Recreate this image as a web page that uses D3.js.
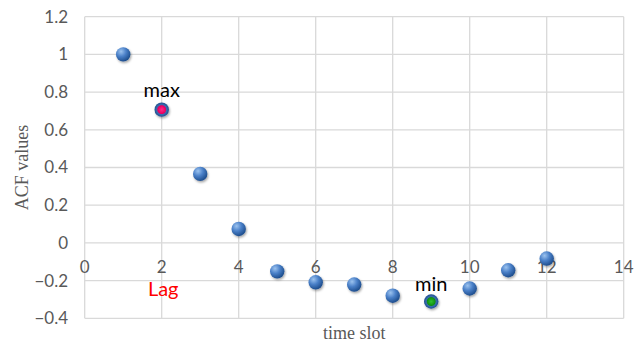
<!DOCTYPE html>
<html><head><meta charset="utf-8">
<script src="https://cdn.jsdelivr.net/npm/d3@7"></script>
<style>body{margin:0;background:#fff}svg{display:block}</style>
</head><body>
<script>
const lags = [1,2,3,4,5,6,7,8,9,10,11,12];
const acfValues = [1.0,0.707,0.366,0.074,-0.151,-0.209,-0.221,-0.28,-0.311,-0.242,-0.145,-0.083];
const xTicks = [0,2,4,6,8,10,12,14];
const yTicks = [-0.4,-0.2,0,0.2,0.4,0.6,0.8,1,1.2];
const maxLag = 2, minLag = 9;

const W=639,H=345;
const svg=d3.select("body").append("svg").attr("width",W).attr("height",H);
const x=d3.scaleLinear().domain([0,14]).range([84.7,623.7]);
const y=d3.scaleLinear().domain([-0.4,1.2]).range([318.3,16.7]);

const defs=svg.append("defs");
const g=defs.append("radialGradient").attr("id","gb").attr("cx","35%").attr("cy","30%").attr("r","70%");
g.append("stop").attr("offset","0%").attr("stop-color","#9cc3ef");
g.append("stop").attr("offset","50%").attr("stop-color","#4a80c8");
g.append("stop").attr("offset","100%").attr("stop-color","#1f4f8f");
const gp=defs.append("radialGradient").attr("id","gp").attr("cx","50%").attr("cy","50%").attr("r","50%");
gp.append("stop").attr("offset","0%").attr("stop-color","#ff2a8a");
gp.append("stop").attr("offset","55%").attr("stop-color","#e8005f");
gp.append("stop").attr("offset","68%").attr("stop-color","#3a6db0");
gp.append("stop").attr("offset","100%").attr("stop-color","#1f4f8f");
const gg=defs.append("radialGradient").attr("id","gg").attr("cx","50%").attr("cy","50%").attr("r","50%");
gg.append("stop").attr("offset","0%").attr("stop-color","#30c030");
gg.append("stop").attr("offset","55%").attr("stop-color","#109010");
gg.append("stop").attr("offset","68%").attr("stop-color","#3a6db0");
gg.append("stop").attr("offset","100%").attr("stop-color","#1f4f8f");
const f=defs.append("filter").attr("id","sh").attr("x","-50%").attr("y","-50%").attr("width","200%").attr("height","200%");
f.append("feDropShadow").attr("dx",1).attr("dy",1.5).attr("stdDeviation",1.2).attr("flood-color","#000").attr("flood-opacity",0.35);

// grid
svg.append("g").selectAll("line").data(xTicks).join("line")
  .attr("x1",d=>x(d)).attr("x2",d=>x(d)).attr("y1",y(1.2)).attr("y2",y(-0.4))
  .attr("stroke","#d9d9d9").attr("stroke-width",1.3);
svg.append("g").selectAll("line").data(yTicks).join("line")
  .attr("y1",d=>y(d)).attr("y2",d=>y(d)).attr("x1",x(0)).attr("x2",x(14))
  .attr("stroke","#d9d9d9").attr("stroke-width",1.3);

const font="Lato, 'Open Sans', sans-serif";
// y tick labels
svg.append("g").selectAll("text").data(yTicks).join("text")
  .attr("x",68).attr("y",d=>y(d)).attr("dy","0.35em").attr("text-anchor","end")
  .attr("font-family",font).attr("font-size",17).attr("fill","#595959")
  .text(d=>d3.format("")(+d.toFixed(1)));
// x tick labels
svg.append("g").selectAll("text").data(xTicks).join("text")
  .attr("x",d=>x(d)).attr("y",y(0)+24).attr("dy","0.35em").attr("text-anchor","middle")
  .attr("font-family",font).attr("font-size",17).attr("fill","#595959")
  .text(d=>d);

// axis titles
svg.append("text").attr("transform",`translate(28,${(y(1.2)+y(-0.4))/2}) rotate(-90)`)
  .attr("text-anchor","middle").attr("font-family","'Liberation Serif', serif").attr("font-size",18).attr("fill","#595959").text("ACF values");
svg.append("text").attr("x",(x(0)+x(14))/2).attr("y",339).attr("text-anchor","middle")
  .attr("font-family","'Liberation Serif', serif").attr("font-size",18).attr("fill","#595959").text("time slot");

// points
const data=lags.map((l,i)=>({l,v:acfValues[i]}));
svg.append("g").selectAll("circle").data(data).join("circle")
  .attr("cx",d=>x(d.l)).attr("cy",d=>y(d.v)).attr("r",7.2)
  .attr("fill",d=>d.l===maxLag?"url(#gp)":d.l===minLag?"url(#gg)":"url(#gb)")
  .attr("filter","url(#sh)");

// annotations
const mx=data.find(d=>d.l===maxLag), mn=data.find(d=>d.l===minLag);
svg.append("text").attr("x",x(mx.l)).attr("y",y(mx.v)-20).attr("dy","0.35em").attr("text-anchor","middle")
  .attr("font-family",font).attr("font-size",20).attr("fill","#000").text("max");
svg.append("text").attr("x",x(mn.l)).attr("y",y(mn.v)-18).attr("dy","0.35em").attr("text-anchor","middle")
  .attr("font-family",font).attr("font-size",20).attr("fill","#000").text("min");
svg.append("text").attr("x",x(2)+1.5).attr("y",y(0)+46).attr("dy","0.35em").attr("text-anchor","middle")
  .attr("font-family",font).attr("font-size",20).attr("fill","#ff0000").text("Lag");
</script>
</body></html>
